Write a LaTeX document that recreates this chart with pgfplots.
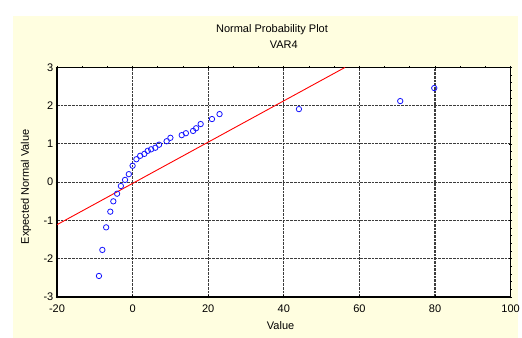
\documentclass[border=0pt]{standalone}
\usepackage{fontspec}
\setmainfont{Liberation Sans}
\usepackage{pgfplots}
\pgfplotsset{compat=1.18}
\definecolor{panel}{RGB}{255,254,224}
\definecolor{gridgray}{RGB}{60,60,60}
\definecolor{ptblue}{RGB}{20,20,255}
\begin{document}
\fontsize{11bp}{13bp}\selectfont
\begin{tikzpicture}
\path[use as bounding box, fill=white] (0bp,0bp) rectangle (522bp,338bp);
\fill[panel] (13bp,0bp) rectangle (518bp,322bp);
\begin{axis}[
  at={(57bp,41bp)}, anchor=south west,
  scale only axis, width=453.6bp, height=229.6bp,
  axis background/.style={fill=white},
  xmin=-20, xmax=100, ymin=-3, ymax=3,
  xtick={-20,0,...,100}, ytick={-3,-2,...,3},
  minor x tick num=2, minor y tick num=4,
  grid=major,
  major grid style={gridgray, line width=1.1bp, dash pattern=on 2.7bp off 1bp},
  axis line style={black, line width=1.2bp},
  tick style={black, line width=0.8bp},
  major tick length=3bp, minor tick length=2bp,
  tick align=center,
  /pgf/number format/assume math mode=true,
  xticklabel style={anchor=center, yshift=-10.5bp},
  yticklabel style={anchor=east, inner sep=0pt, xshift=-2bp},
  xlabel={Value},
  xlabel style={at={(axis description cs:0.493,-0.1263)}, anchor=center},
  ylabel={Expected Normal Value},
  ylabel style={at={(axis description cs:-0.0683,0.48)}, anchor=center},
  title={Normal Probability Plot},
  every axis title shift=0pt,
  title style={at={(axis description cs:0.474,1.1655)}, anchor=center},
  clip mode=individual,
]
% fitted normal reference line
\addplot[red, line width=0.9bp] coordinates {(-20,-1.11) (56.2,3)};
% observed values against expected normal scores
\addplot[only marks, mark=o, mark size=2.7bp, mark options={ptblue, line width=0.8bp}] table {
x y
-8.9 -2.45
-8.0 -1.77
-7.0 -1.18
-5.9 -0.77
-5.1 -0.50
-4.1 -0.30
-3.1 -0.10
-2.0 0.06
-1.0 0.21
0.0 0.43
1.0 0.60
2.0 0.69
3.1 0.74
4.0 0.82
4.9 0.86
6.0 0.90
7.0 0.98
9.0 1.07
10.0 1.16
13.0 1.23
14.1 1.28
16.0 1.34
16.8 1.41
18.0 1.52
21.0 1.65
23.0 1.78
44.0 1.91
70.8 2.12
79.8 2.46
};
\node at (axis description cs:0.5,1.100) {VAR4};
\end{axis}
\end{tikzpicture}
\end{document}
